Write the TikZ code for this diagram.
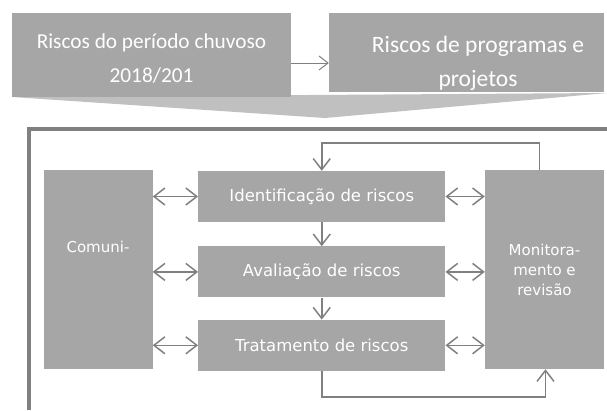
\documentclass[tikz,border=0pt]{standalone}
\usepackage{fontspec}
\setmainfont{Carlito}
\newfontfamily\boxfont{DejaVu Sans}
\usetikzlibrary{arrows.meta,positioning}
\definecolor{boxgray}{HTML}{A6A6A6}
\definecolor{linegray}{HTML}{808080}
\definecolor{fadegray}{HTML}{C0C0C0}

\begin{document}
\begin{tikzpicture}[x=1pt,y=-1pt,node distance=24pt,>={Straight Barb[length=11pt,width=17pt]}]
    \tikzstyle{topbox}=[rectangle,fill=boxgray,text=white,align=center,inner sep=0pt]
    \tikzstyle{box}=[rectangle,fill=boxgray,text=white,align=center,inner sep=0pt,minimum width=247pt,minimum height=51pt,font=\boxfont\fontsize{16.5}{20}\selectfont]
    \tikzstyle{tallbox}=[box,minimum height=199pt,font=\boxfont\fontsize{15}{20}\selectfont]
    \tikzstyle{link}=[draw=linegray,line width=1.5pt]
    \useasboundingbox (0,0) rectangle (607,410);
    % inputs on top
    \fill[fadegray] (12,97) -- (607,93) -- (325,118) -- cycle;
    \node[topbox,minimum width=279pt,minimum height=84pt,text height=59pt,text depth=5pt,font=\fontsize{21.3}{34}\selectfont] (periodo) at (151.5,55) {Riscos do período chuvoso\\2018/201};
    \node[topbox,minimum width=275pt,minimum height=79pt,text height=72pt,text depth=4pt,font=\fontsize{23.5}{34}\selectfont] (programas) at (466.5,52.5) {\hspace*{23pt}Riscos de programas e\\\hspace*{23pt}projetos};
    \draw[draw=linegray,line width=1pt,>={Straight Barb[length=9pt,width=14pt]},->] (periodo.east |- 0,63) -- (programas.west |- 0,63);
    % frame
    \draw[linegray,line width=4pt] (29,410) -- (29,129) -- (607,129);
    % process
    \node[tallbox,minimum width=109pt,text depth=46pt] (comunic) at (98,269.5) {Comuni-};
    \node[box] (ident) at (321.75,196.5) {Identificação de riscos};
    \node[box,below=of ident] (aval) {Avaliação de riscos};
    \node[box,below=22pt of aval] (trat) {Tratamento de riscos};
    \node[tallbox,minimum width=119pt] (monit) at (544.5,269.5) {Monitora-\\mento e\\revisão};
    \draw[link,->] (ident) -- (aval);
    \draw[link,->] (aval) -- (trat);
    \foreach \step in {ident,aval,trat}{
      \draw[link,<->] (comunic.east |- \step) -- (\step);
      \draw[link,<->] (\step) -- (monit.west |- \step);
    }
    \draw[link,->] ([xshift=-5pt]monit.north) -- ++(0,-27) -| (ident.north);
    \draw[link,->] (trat.south) -- ++(0,26) -| ([xshift=1pt]monit.south);
\end{tikzpicture}
\end{document}
